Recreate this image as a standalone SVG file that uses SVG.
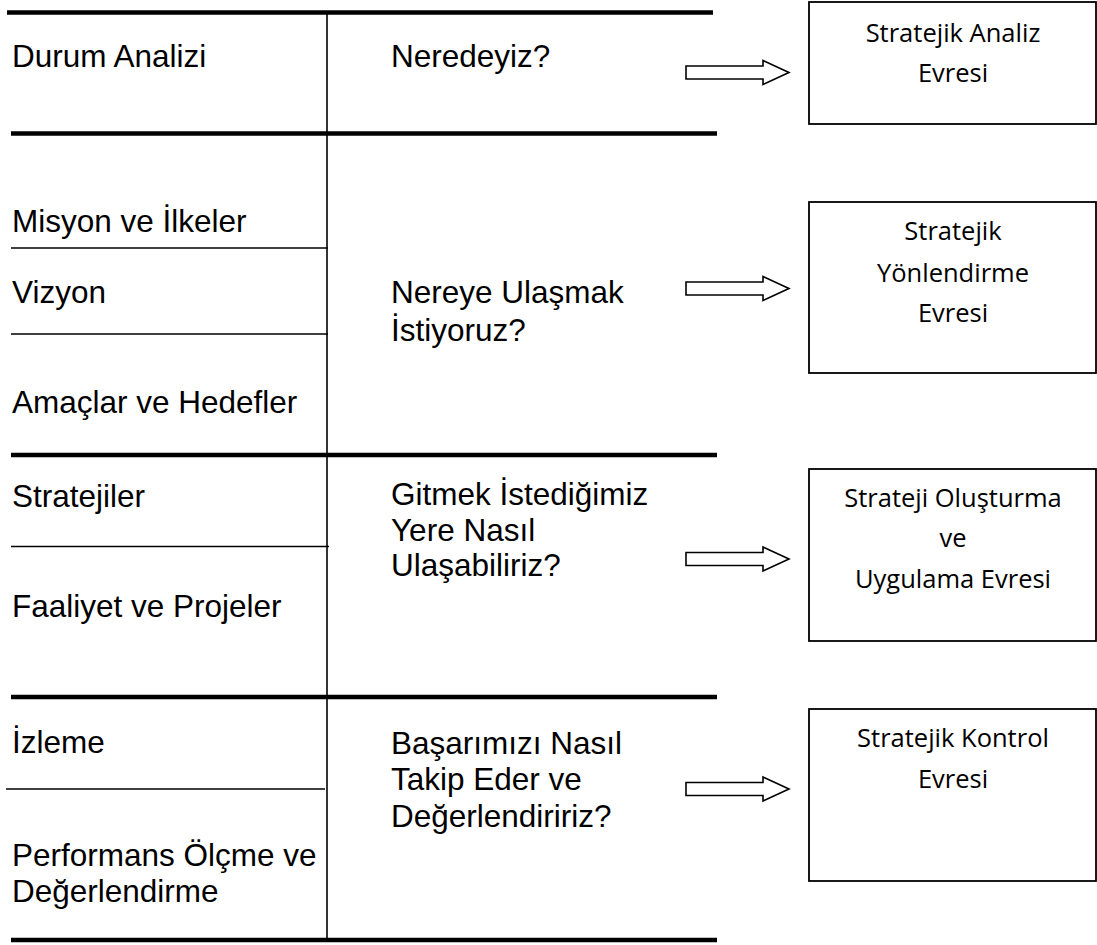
<svg xmlns="http://www.w3.org/2000/svg" width="1097" height="945" viewBox="0 0 1097 945">
<defs>
<style>
.thick{stroke:#000;stroke-width:4.5;fill:none}
.thin{stroke:#000;stroke-width:1.6;fill:none}
.lbl{font-family:"Liberation Sans",Arial,sans-serif;font-size:31.5px;fill:#000}
.box{fill:#fff;stroke:#000;stroke-width:1.8}
.btx{font-family:"Open Sans","Noto Sans",sans-serif;font-size:25.5px;fill:#000;text-anchor:middle}
.arr{fill:#fff;stroke:#000;stroke-width:1.6;stroke-linejoin:miter}
</style>
<path id="arrowShape" d="M0,-6.5 H77 V-12 L103,0 L77,12 V6.5 H0 Z"/>
</defs>
<rect width="1097" height="945" fill="#fff"/>
<g id="table">
<line class="thick" x1="7" y1="12.5" x2="713" y2="12.5"/>
<line class="thick" x1="11" y1="133.5" x2="717" y2="133.5"/>
<line class="thick" x1="11" y1="455" x2="717" y2="455"/>
<line class="thick" x1="11" y1="697" x2="717" y2="697"/>
<line class="thick" x1="11" y1="940" x2="717" y2="940"/>
<line class="thin" x1="327" y1="12" x2="327" y2="940"/>
<line class="thin" x1="11" y1="248" x2="328" y2="248"/>
<line class="thin" x1="11" y1="334" x2="328" y2="334"/>
<line class="thin" x1="11" y1="546.5" x2="329" y2="546.5"/>
<line class="thin" x1="6" y1="789" x2="325" y2="789"/>
</g>
<g id="left-labels">
<text class="lbl" x="12" y="66.5">Durum Analizi</text>
<text class="lbl" x="12" y="231.5">Misyon ve İlkeler</text>
<text class="lbl" x="12" y="303">Vizyon</text>
<text class="lbl" x="12" y="413">Amaçlar ve Hedefler</text>
<text class="lbl" x="12" y="506.5">Stratejiler</text>
<text class="lbl" x="12" y="616.5">Faaliyet ve Projeler</text>
<text class="lbl" x="12" y="753">İzleme</text>
<text class="lbl" x="12" y="866">Performans Ölçme ve</text>
<text class="lbl" x="12" y="901.5">Değerlendirme</text>
</g>
<g id="questions">
<text class="lbl" x="391" y="66.5">Neredeyiz?</text>
<text class="lbl" x="391" y="303">Nereye Ulaşmak</text>
<text class="lbl" x="391" y="341">İstiyoruz?</text>
<text class="lbl" x="391" y="505">Gitmek İstediğimiz</text>
<text class="lbl" x="391" y="540.5">Yere Nasıl</text>
<text class="lbl" x="391" y="576">Ulaşabiliriz?</text>
<text class="lbl" x="391" y="754">Başarımızı Nasıl</text>
<text class="lbl" x="391" y="790">Takip Eder ve</text>
<text class="lbl" x="391" y="826.5">Değerlendiririz?</text>
</g>
<g id="connectors">
<use href="#arrowShape" class="arr" transform="translate(686,72.5)"/>
<use href="#arrowShape" class="arr" transform="translate(686,288.5)"/>
<use href="#arrowShape" class="arr" transform="translate(686,559)"/>
<use href="#arrowShape" class="arr" transform="translate(686,789)"/>
</g>
<g id="phase1">
<rect class="box" x="809" y="2" width="287" height="122"/>
<text class="btx" x="953" y="41.5">Stratejik Analiz</text>
<text class="btx" x="953" y="81.5">Evresi</text>
</g>
<g id="phase2">
<rect class="box" x="809" y="202" width="287" height="171"/>
<text class="btx" x="953" y="240">Stratejik</text>
<text class="btx" x="953" y="281.5">Yönlendirme</text>
<text class="btx" x="953" y="321.5">Evresi</text>
</g>
<g id="phase3">
<rect class="box" x="809" y="469" width="287" height="172"/>
<text class="btx" x="953" y="506.5">Strateji Oluşturma</text>
<text class="btx" x="953" y="547">ve</text>
<text class="btx" x="953" y="588">Uygulama Evresi</text>
</g>
<g id="phase4">
<rect class="box" x="809" y="709" width="287" height="172"/>
<text class="btx" x="953" y="746.5">Stratejik Kontrol</text>
<text class="btx" x="953" y="788">Evresi</text>
</g>
</svg>
